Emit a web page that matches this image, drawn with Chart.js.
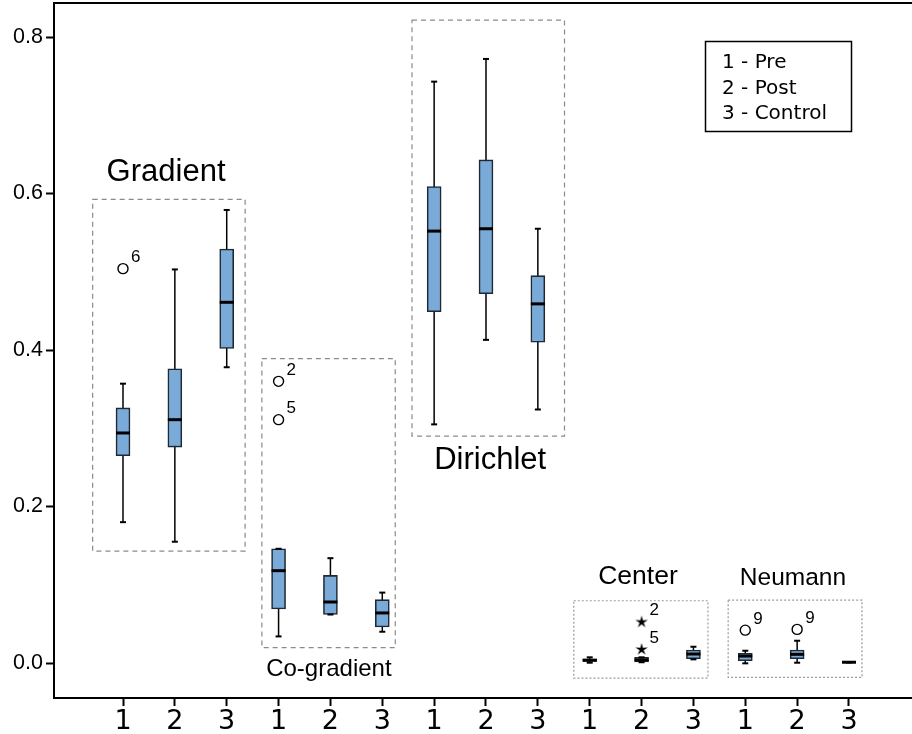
<!DOCTYPE html>
<html>
<head>
<meta charset="utf-8">
<script src="https://cdn.jsdelivr.net/npm/chart.js@4"></script>
<style>
  html, body { margin: 0; padding: 0; background: #fff; }
</style>
</head>
<body>
<canvas id="chart" width="912" height="734"></canvas>
<script>
// categories: 5 groups x (1 - Pre, 2 - Post, 3 - Control)
const xTickLabels = ['1', '2', '3', '1', '2', '3', '1', '2', '3', '1', '2', '3', '1', '2', '3'];
const groupNames = ['Gradient', 'Co-gradient', 'Dirichlet', 'Center', 'Neumann'];
const legendLines = ['1 - Pre', '2 - Post', '3 - Control'];
const yTicks = [0, 0.2, 0.4, 0.6, 0.8];

// box plot statistics, one value per category
const whiskerLow  = [0.180, 0.155, 0.378, 0.034, 0.062, 0.040, 0.305, 0.413, 0.324, 0.0004, 0.0010, 0.0047, -0.0004, 0.0004, 0.001];
const q1          = [0.265, 0.276, 0.402, 0.069, 0.062, 0.046, 0.449, 0.472, 0.410, 0.0020, 0.0013, 0.0055, 0.0030, 0.0055, 0.001];
const median      = [0.294, 0.311, 0.461, 0.118, 0.078, 0.064, 0.552, 0.555, 0.459, 0.0035, 0.0040, 0.0115, 0.0089, 0.0111, 0.001];
const q3          = [0.326, 0.376, 0.529, 0.146, 0.112, 0.081, 0.609, 0.643, 0.495, 0.0055, 0.0073, 0.0166, 0.0124, 0.0166, 0.001];
const whiskerHigh = [0.357, 0.503, 0.579, 0.146, 0.134, 0.090, 0.743, 0.772, 0.555, 0.0073, 0.0073, 0.0208, 0.0157, 0.0285, 0.001];

// outliers: category index, value, case number, marker (circle = outlier, star = extreme)
const outlierCat   = [0, 3, 3, 10, 10, 12, 13];
const outlierValue = [0.504, 0.360, 0.311, 0.053, 0.018, 0.042, 0.043];
const outlierCase  = ['6', '2', '5', '2', '5', '9', '9'];
const outlierMark  = ['circle', 'circle', 'circle', 'star', 'star', 'circle', 'circle'];

// group frames and titles (in axis units)
const frames = [
  { x0: -0.585, x1: 2.355, y0: 0.143,   y1: 0.5926, dash: [5, 4], color: '#8a8a8a', tx: 0.83,  ty: 0.6275, size: 31 },
  { x0: 2.678,  x1: 5.25,  y0: 0.0196,  y1: 0.389,  dash: [5, 4], color: '#8a8a8a', tx: 3.97,  ty: -0.0077, size: 24 },
  { x0: 5.573,  x1: 8.514, y0: 0.290,   y1: 0.8217, dash: [5, 4], color: '#8a8a8a', tx: 7.08,  ty: 0.2594, size: 31 },
  { x0: 8.693,  x1: 11.28, y0: -0.0192, y1: 0.0796, dash: [2, 2], color: '#9a9a9a', tx: 9.93,  ty: 0.110,  size: 26.5 },
  { x0: 11.67,  x1: 14.25, y0: -0.0183, y1: 0.0805, dash: [2, 2], color: '#9a9a9a', tx: 12.92, ty: 0.1086, size: 24.5 }
];

// small filled star used for extreme values
const starImg = document.createElement('canvas');
starImg.width = 14; starImg.height = 14;
(() => {
  const c = starImg.getContext('2d');
  c.fillStyle = '#000';
  c.beginPath();
  for (let k = 0; k < 10; k++) {
    const r = k % 2 === 0 ? 6.5 : 2.2;
    const a = -Math.PI / 2 + k * Math.PI / 5;
    c.lineTo(7 + r * Math.cos(a), 7.5 + r * Math.sin(a));
  }
  c.closePath();
  c.fill();
})();

const boxPlotPlugin = {
  id: 'boxPlot',
  beforeDatasetsDraw(chart) {
    const { ctx, scales: { x, y } } = chart;
    ctx.save();
    // group frames
    frames.forEach((f, i) => {
      ctx.setLineDash(f.dash);
      ctx.strokeStyle = f.color;
      ctx.lineWidth = 1.2;
      const l = x.getPixelForValue(f.x0), r = x.getPixelForValue(f.x1);
      const t = y.getPixelForValue(f.y1), b = y.getPixelForValue(f.y0);
      ctx.strokeRect(l, t, r - l, b - t);
      ctx.setLineDash([]);
      ctx.fillStyle = '#000';
      ctx.font = f.size + 'px "Liberation Sans", Arial, sans-serif';
      ctx.textAlign = 'center';
      ctx.textBaseline = 'middle';
      ctx.fillText(groupNames[i], x.getPixelForValue(f.tx), y.getPixelForValue(f.ty));
    });
    // whiskers
    ctx.strokeStyle = '#000';
    ctx.lineWidth = 1.5;
    xTickLabels.forEach((_, i) => {
      const px = x.getPixelForValue(i);
      ctx.beginPath();
      ctx.moveTo(px, y.getPixelForValue(whiskerLow[i]));
      ctx.lineTo(px, y.getPixelForValue(whiskerHigh[i]));
      ctx.stroke();
    });
    ctx.restore();
  },
  afterDatasetsDraw(chart) {
    const { ctx, scales: { x, y } } = chart;
    ctx.save();
    ctx.strokeStyle = '#000';
    xTickLabels.forEach((_, i) => {
      const px = x.getPixelForValue(i);
      // caps
      ctx.lineWidth = 2;
      [whiskerLow[i], whiskerHigh[i]].forEach(v => {
        const py = y.getPixelForValue(v);
        ctx.beginPath();
        ctx.moveTo(px - 3, py);
        ctx.lineTo(px + 3, py);
        ctx.stroke();
      });
      // median
      ctx.lineWidth = 3;
      const pm = y.getPixelForValue(median[i]);
      ctx.beginPath();
      ctx.moveTo(px - 7, pm);
      ctx.lineTo(px + 7, pm);
      ctx.stroke();
    });
    // case numbers next to outliers
    ctx.fillStyle = '#000';
    ctx.font = '17px "Liberation Sans", Arial, sans-serif';
    ctx.textAlign = 'left';
    ctx.textBaseline = 'middle';
    outlierCat.forEach((c, i) => {
      ctx.fillText(outlierCase[i], x.getPixelForValue(c) + 8, y.getPixelForValue(outlierValue[i]) - 11);
    });
    ctx.restore();
  },
  afterDraw(chart) {
    const { ctx, chartArea } = chart;
    ctx.save();
    // top frame line
    ctx.strokeStyle = '#000';
    ctx.lineWidth = 2;
    ctx.beginPath();
    ctx.moveTo(chartArea.left, chartArea.top);
    ctx.lineTo(chartArea.right, chartArea.top);
    ctx.stroke();
    // legend box
    ctx.lineWidth = 1.5;
    ctx.strokeRect(705.5, 41.5, 146, 90);
    ctx.fillStyle = '#000';
    ctx.font = '20px "DejaVu Sans", Verdana, sans-serif';
    ctx.textAlign = 'left';
    ctx.textBaseline = 'middle';
    legendLines.forEach((t, i) => ctx.fillText(t, 722, 63 + i * 25.5));
    ctx.restore();
  }
};

new Chart(document.getElementById('chart'), {
  type: 'bar',
  data: {
    datasets: [{
      label: 'boxes',
      data: xTickLabels.map((_, i) => ({ x: i, y: [q1[i], q3[i]] })),
      backgroundColor: '#7aaad8',
      borderColor: '#1f2933',
      borderWidth: 1.6,
      borderSkipped: false,
      barThickness: 14
    }, {
      type: 'scatter',
      label: 'outliers',
      data: outlierCat.map((c, i) => ({ x: c, y: outlierValue[i] })),
      pointStyle: outlierMark.map(m => m === 'star' ? starImg : 'circle'),
      radius: 5,
      backgroundColor: '#fff',
      borderColor: '#000',
      borderWidth: 1.4
    }]
  },
  options: {
    responsive: false,
    animation: false,
    devicePixelRatio: 1,
    layout: { autoPadding: false, padding: { top: 3, left: 0, right: 0, bottom: 0 } },
    plugins: { legend: { display: false }, tooltip: { enabled: false } },
    scales: {
      x: {
        type: 'linear',
        offset: false,
        min: -1.3306,
        max: 15.215,
        afterBuildTicks: s => { s.ticks = xTickLabels.map((_, i) => ({ value: i })); },
        afterFit: s => { s.height = 36; s.paddingLeft = 0; s.paddingRight = 0; },
        grid: { offset: false, drawOnChartArea: false, tickLength: 8, tickColor: '#000', tickWidth: 2 },
        border: { color: '#000', width: 2 },
        ticks: {
          color: '#000',
          padding: 0,
          maxRotation: 0,
          autoSkip: false,
          font: { family: '"DejaVu Sans", Verdana, sans-serif', size: 27 },
          callback: v => xTickLabels[Math.round(v)]
        }
      },
      y: {
        type: 'linear',
        min: -0.0447,
        max: 0.8435,
        afterBuildTicks: s => { s.ticks = yTicks.map(v => ({ value: v })); },
        afterFit: s => { s.width = 54; s.paddingTop = 0; s.paddingBottom = 0; },
        grid: { drawOnChartArea: false, tickLength: 8, tickColor: '#000', tickWidth: 2 },
        border: { color: '#000', width: 2 },
        ticks: {
          color: '#000',
          padding: 3,
          font: { family: '"Liberation Sans", Arial, sans-serif', size: 21.5 },
          callback: v => v.toFixed(1)
        }
      }
    }
  },
  plugins: [boxPlotPlugin]
});
</script>
</body>
</html>
